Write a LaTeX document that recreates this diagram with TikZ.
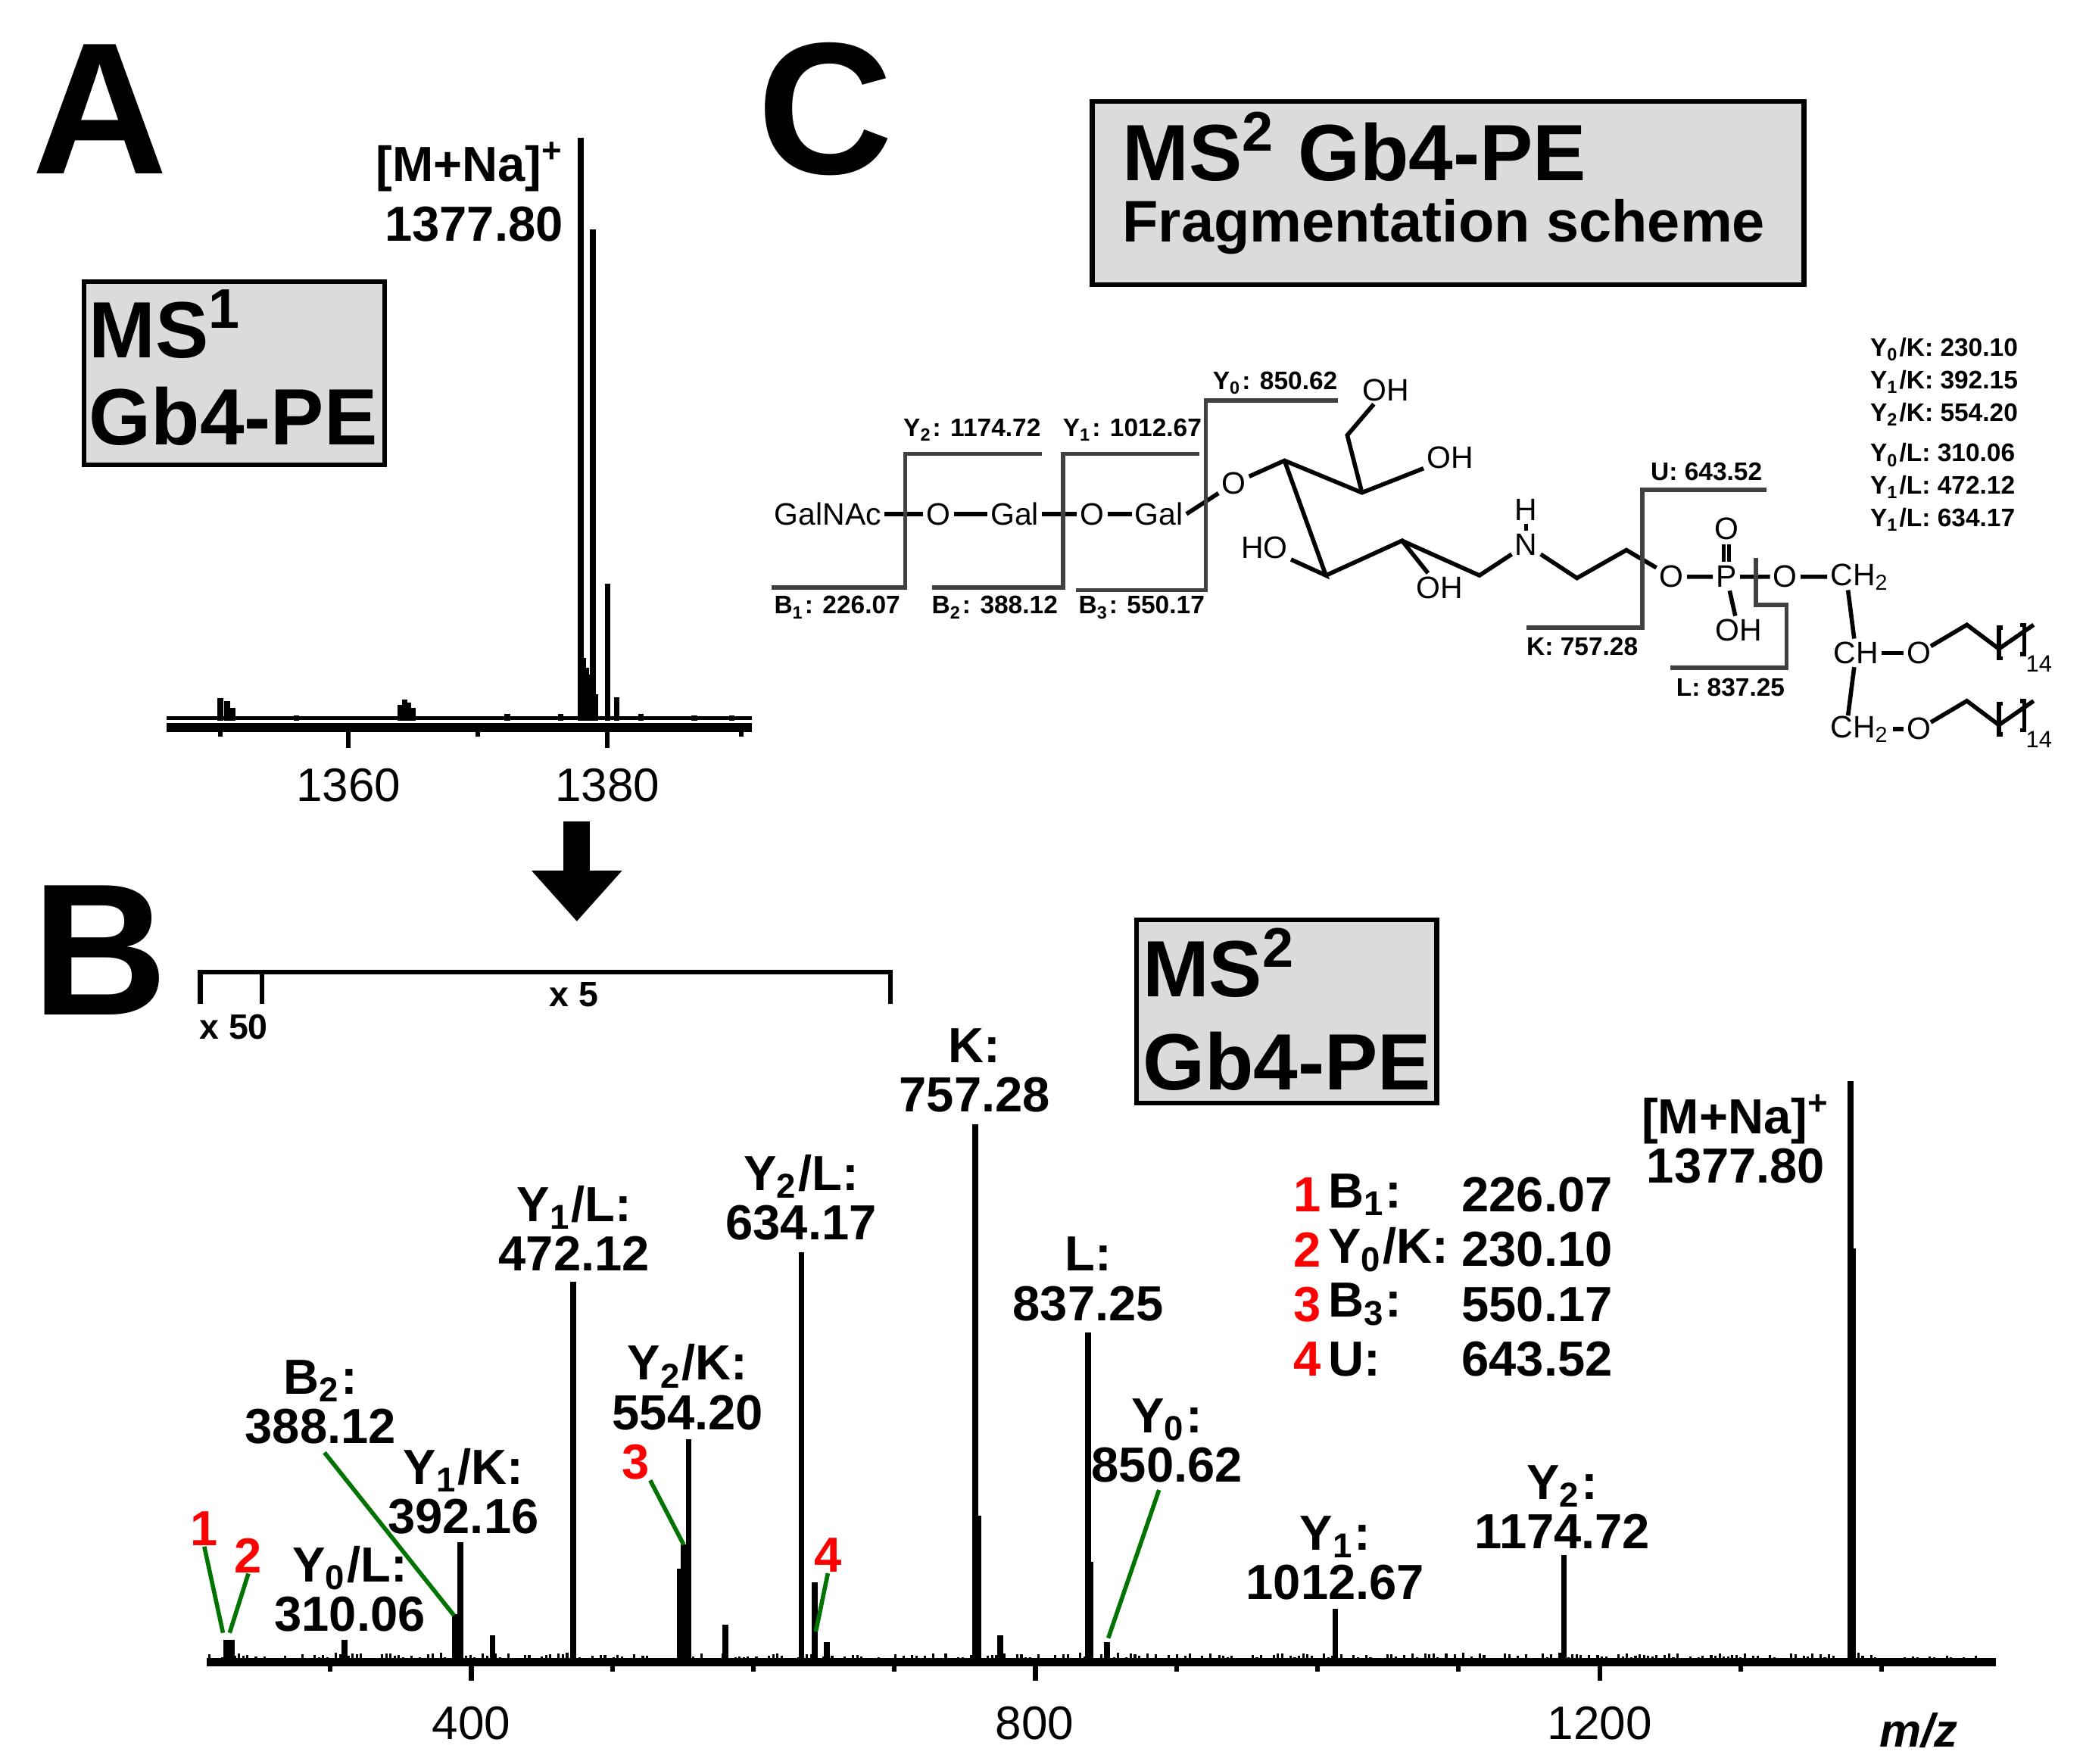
\documentclass[tikz,border=0pt]{standalone}
\usepackage{fontspec}
\setmainfont{Liberation Sans}
\usetikzlibrary{arrows.meta}
\newcommand\fsz[1]{\fontsize{#1}{#1}\selectfont}
\newcommand\ssub[1]{\textsubscript{#1}}
\begin{document}
\begin{tikzpicture}[x=0.01cm,y=-0.01cm,
  big/.style={font=\fsz{40}\bfseries},
  lab/.style={font=\fsz{10.5}\bfseries, align=center, inner sep=0pt},
  tick/.style={font=\fsz{10}, inner sep=0pt},
  grayb/.style={draw, line width=1pt, fill=gray!28},
  chem/.style={font=\fsz{6.6}, inner sep=0.5pt},
  frag/.style={font=\fsz{5.4}\bfseries, inner sep=0pt},
  bond/.style={line width=0.9pt},
  brk/.style={line width=0.9pt, draw=black!75},
  peak/.style={line width=1.2pt},
  gline/.style={draw=green!45!black, line width=0.9pt},
  rnum/.style={font=\fsz{10.5}\bfseries, text=red, inner sep=0pt}]
\useasboundingbox (0,0) rectangle (1560,1321);
% ---------------- Panel A
\node[big] (A) at (75,82) {A};
\draw[grayb] (63,211) rectangle (288,348);
\node[font=\fsz{17}\bfseries, anchor=west, inner sep=0pt] (msA) at (66,243) {MS\textsuperscript{1}};
\node[font=\fsz{17}\bfseries, anchor=west, inner sep=0pt] (gbA) at (66,312) {Gb4-PE};
\node[lab] (mnaA) at (352,125) {[M+Na]\textsuperscript{+}};
\node[lab] (mzA) at (355,168) {1377.80};
\draw[line width=0.8pt] (125,538) -- (563,538);
\draw[line width=2pt] (125,545) -- (563,545);
\foreach \x in {261,455} \draw[line width=1pt] (\x,545) -- (\x,560);
\foreach \x in {165,358,555} \draw[line width=1pt] (\x,545) -- (\x,552);
\node[tick] (t1360) at (261,588) {1360};
\node[tick] (t1380) at (455,588) {1380};
\foreach \x/\t in {435/103,444/172,455/437,437/493,439/500,441/505,446/520,462/522,165/523,170/525,174/530,300/528,303/524,306/526,309/530,222/536,380/535,420/535,480/535,520/536,548/536}
  \draw[peak] (\x,540) -- (\x,\t);
% arrow
\fill (422,615) rectangle (442,652);
\fill (398,652) -- (466,652) -- (432,690) -- cycle;
% ---------------- Panel C
\node[big] (C) at (618,82) {C};
\draw[grayb] (818,76) rectangle (1351,213);
\node[font=\fsz{17}\bfseries, anchor=west, inner sep=0pt] (msC) at (840,110) {MS\textsuperscript{2} Gb4-PE};
\node[font=\fsz{12.5}\bfseries, anchor=west, inner sep=0pt] (frC) at (840,170) {Fragmentation scheme};
% chain
\node[chem] (galnac) at (620,385) {GalNAc};
\node[chem] (o1) at (703,385) {O};
\node[chem] (gal1) at (760,385) {Gal};
\node[chem] (o2) at (818,385) {O};
\node[chem] (gal2) at (868,385) {Gal};
\node[chem] (o3) at (924,362) {O};
\draw[bond] (galnac) -- (o1) -- (gal1) -- (o2) -- (gal2);
\draw[bond] (gal2.east) -- (o3);
\coordinate (c1) at (962,345); \coordinate (c2) at (1020,369);
\coordinate (c2a) at (1009,326); \coordinate (c4) at (993,431);
\coordinate (c5) at (1050,405); \coordinate (c6) at (1108,431);
\node[chem] (oh1) at (1038,292) {OH};
\node[chem] (oh2) at (1086,343) {OH};
\node[chem] (ho3) at (947,410) {HO};
\node[chem] (oh4) at (1078,440) {OH};
\node[chem] (nn) at (1143,408) {N};
\node[chem] (hh) at (1143,382) {H};
\draw[bond] (o3) -- (c1) -- (c2) -- (oh2);
\draw[bond] (c2) -- (c2a) -- (oh1);
\draw[bond] (c1) -- (c4) -- (ho3);
\draw[bond] (c4) -- (c5) -- (oh4);
\draw[bond] (c5) -- (c6) -- (nn);
\draw[bond] (nn) -- (hh);
\coordinate (e1) at (1181,433); \coordinate (e2) at (1218,412);
\node[chem] (op1) at (1252,432) {O};
\node[chem] (pp) at (1293,432) {P};
\node[chem] (opd) at (1293,396) {O};
\node[chem] (ohp) at (1302,472) {OH};
\node[chem] (op2) at (1337,432) {O};
\node[chem] (ch2a) at (1393,432) {CH\textsubscript{2}};
\node[chem] (ch) at (1390,489) {CH};
\node[chem] (oa) at (1437,489) {O};
\node[chem] (ch2b) at (1393,546) {CH\textsubscript{2}};
\node[chem] (ob) at (1437,546) {O};
\draw[bond] (nn) -- (e1) -- (e2) -- (op1) -- (pp) -- (op2) -- (ch2a);
\draw[bond] (1291,421) -- (1291,408) (1295,421) -- (1295,408);
\draw[bond] (pp) -- (ohp);
\draw[bond] (1384,442) -- (ch) -- (1384,536);
\draw[bond] (ch) -- (oa);
\draw[bond] (ch2b.east) -- (ob);
\foreach \y/\n in {0/a,57/b}{
  \draw[bond] (1446,484+\y) -- (1473,468+\y) -- (1497,486+\y) -- (1510,477+\y) -- (1523,468+\y);
  \draw[bond] (1500,470+\y) -- (1497,470+\y) -- (1497,493+\y) -- (1500,493+\y);
  \draw[bond] (1513,468+\y) -- (1516,468+\y) -- (1516,490+\y) -- (1513,490+\y);
  \node[font=\fsz{5}, inner sep=0pt] (n14\n) at (1527,497+\y) {14};
}
% fragmentation brackets
\draw[brk] (578,440) -- (678,440) -- (678,340) -- (780,340);
\draw[brk] (698,440) -- (796,440) -- (796,340) -- (898,340);
\draw[brk] (806,442) -- (903,442) -- (903,300) -- (1002,300);
\draw[brk] (1143,470) -- (1230,470) -- (1230,367) -- (1323,367);
\draw[brk] (1251,500) -- (1338,500) -- (1338,453) -- (1315,453) -- (1315,418);
\node[frag] (fy2) at (728,322) {Y\ssub{2}: 1174.72};
\node[frag] (fy1) at (848,322) {Y\ssub{1}: 1012.67};
\node[frag] (fy0) at (955,287) {Y\ssub{0}: 850.62};
\node[frag] (fb1) at (627,455) {B\ssub{1}: 226.07};
\node[frag] (fb2) at (745,455) {B\ssub{2}: 388.12};
\node[frag] (fb3) at (855,455) {B\ssub{3}: 550.17};
\node[frag] (fu) at (1278,353) {U: 643.52};
\node[frag] (fk) at (1185,484) {K: 757.28};
\node[frag] (fl) at (1296,515) {L: 837.25};
\node[frag, align=left, anchor=west] (lk) at (1400,286) {Y\ssub{0}/K: 230.10\\[1.5pt]Y\ssub{1}/K: 392.15\\[1.5pt]Y\ssub{2}/K: 554.20};
\node[frag, align=left, anchor=west] (ll) at (1400,365) {Y\ssub{0}/L: 310.06\\[1.5pt]Y\ssub{1}/L: 472.12\\[1.5pt]Y\ssub{1}/L: 634.17};
% ---------------- Panel B
\node[big] (B) at (75,712) {B};
\draw[line width=1pt] (150,752) -- (150,728) -- (667,728) -- (667,752);
\draw[line width=1pt] (196,728) -- (196,752);
\node[font=\fsz{7.5}\bfseries, inner sep=0pt] (x50) at (175,769) {x 50};
\node[font=\fsz{7.5}\bfseries, inner sep=0pt] (x5) at (430,745) {x 5};
\draw[grayb] (851,689) rectangle (1076,826);
\node[font=\fsz{17}\bfseries, anchor=west, inner sep=0pt] (msB) at (855,721) {MS\textsuperscript{2}};
\node[font=\fsz{17}\bfseries, anchor=west, inner sep=0pt] (gbB) at (855,795) {Gb4-PE};
% axis
\draw[line width=1.8pt] (155,1245) -- (1495,1245);
\foreach \m in {400,800,1200} \draw[line width=1pt] ({353+(\m-400)*1.05625},1245) -- ++(0,14);
\foreach \m in {300,500,600,700,900,1000,1100,1300,1400} \draw[line width=1pt] ({353+(\m-400)*1.05625},1245) -- ++(0,7);
\node[tick] (t400) at (353,1291) {400};
\node[tick] (t800) at (775,1291) {800};
\node[tick] (t1200) at (1198,1291) {1200};
\node[font=\fsz{10}\bfseries\itshape, inner sep=0pt] (mz) at (1437,1296) {m/z};
% noise
\pgfmathsetseed{7}
\foreach \i in {0,...,420} {
  \pgfmathsetmacro\xx{157+\i*3.15}
  \pgfmathsetmacro\hh{1+rnd*6}
  \draw[line width=0.5pt] (\xx,1245) -- (\xx,1245-\hh);
}
\foreach \m/\h in {226.07/17,230.10/17,310.06/17,388.12/36,392.16/90,415/20,472.12/285,548/70,550.17/88,554.20/167,580/28,634.17/307,643.52/60,652/15,757.28/403,759.5/110,775/20,837.25/247,839/75,850.62/15,1012.67/40,1174.72/80,1377.80/435,1379.8/310}
  \draw[peak] ({353+(\m-400)*1.05625},1245) -- ++(0,-\h);
% labels
\node[lab] (lK) at (730,802) {K:\\757.28};
\node[lab] (lY2L) at (600,897) {Y\ssub{2}/L:\\634.17};
\node[lab] (lY1L) at (430,920) {Y\ssub{1}/L:\\472.12};
\node[lab] (lL) at (815,958) {L:\\837.25};
\node[lab] (lY2K) at (515,1039) {Y\ssub{2}/K:\\554.20};
\node[lab] (lB2) at (240,1050) {B\ssub{2}:\\388.12};
\node[lab] (lY1K) at (347,1117) {Y\ssub{1}/K:\\392.16};
\node[lab] (lY0L) at (262,1190) {Y\ssub{0}/L:\\310.06};
\node[lab] (lY0) at (874,1079) {Y\ssub{0}:\\850.62};
\node[lab] (lY1) at (1000,1167) {Y\ssub{1}:\\1012.67};
\node[lab] (lY2) at (1170,1129) {Y\ssub{2}:\\1174.72};
\node[lab] (lM) at (1300,853) {[M+Na]\textsuperscript{+}\\1377.80};
\node[rnum] (r1) at (153,1145) {1};
\node[rnum] (r2) at (186,1165) {2};
\node[rnum] (r3) at (476,1095) {3};
\node[rnum] (r4) at (620,1165) {4};
\coordinate (p1) at (167,1223); \coordinate (p2) at (172,1223);
\coordinate (p3) at (512,1157); \coordinate (p4) at (611,1222);
\coordinate (pB2) at (340,1210); \coordinate (pY0) at (830,1227);
\draw[gline] (r1.south) -- (p1);
\draw[gline] (r2.south) -- (p2);
\draw[gline] (r3.south east) -- (p3);
\draw[gline] (r4.south) -- (p4);
\draw[gline] (243,1088) -- (pB2);
\draw[gline] (868,1116) -- (pY0);
% legend
\foreach \y/\n/\a/\v [count=\k] in {895/1/{B\ssub{1}:}/226.07,936/2/{Y\ssub{0}/K:}/230.10,977/3/{B\ssub{3}:}/550.17,1018/4/{U:}/643.52}{
  \node[rnum, anchor=center] (ln\k) at (979,\y) {\n};
  \node[lab, anchor=west] (la\k) at (994,\y) {\a};
  \node[lab, anchor=west] (lv\k) at (1094,\y) {\v};
}
\end{tikzpicture}
\end{document}
